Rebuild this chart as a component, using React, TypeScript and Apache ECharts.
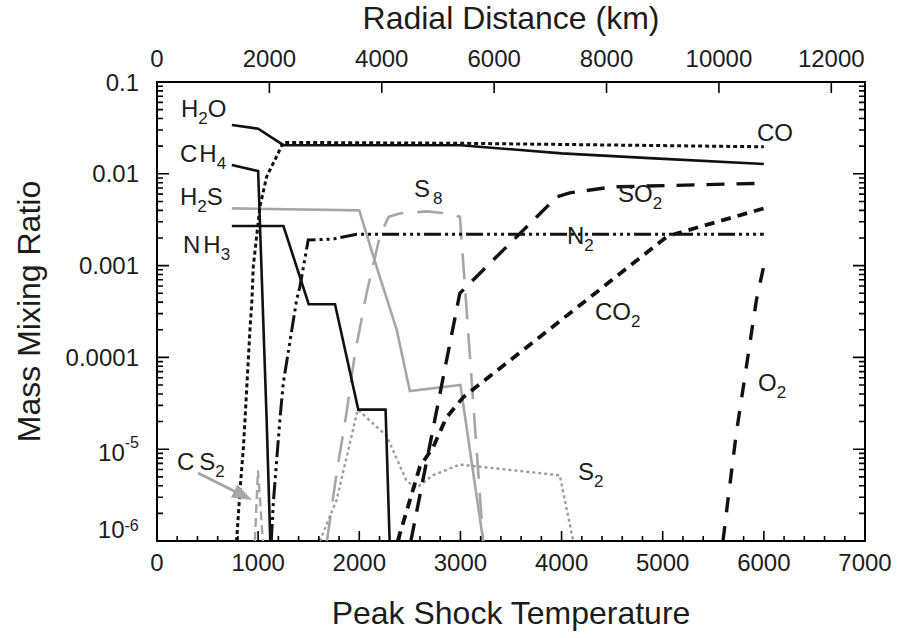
import React, { useEffect, useRef } from 'react';
import * as echarts from 'echarts';

const FONT = '"Liberation Sans", Arial, Helvetica, sans-serif';
const TEXT = '#1c1c1c';
const BLACK = '#111111';
const GRAY = '#a6a6a6';

// ---- axes ----
const temperatureMax = 7000;
const temperatureInterval = 1000;
const temperatureMinorStep = 200;
const radialMax = 12600;
const radialInterval = 2000;
const radialLastTick = 12000;
const yMin = 1e-6;
const yMax = 0.1;
const yTickLabels = ['10^-6', '10^-5', '0.0001', '0.001', '0.01', '0.1'];

// ---- series data: [peak shock temperature, mass mixing ratio] ----
const h2o = [[740, 0.034], [1000, 0.031], [1250, 0.0205], [3000, 0.0205], [4000, 0.0167], [4870, 0.0148], [6000, 0.0128]];
const co = [[787, 1e-6], [820, 3.5e-6], [853, 1e-5], [870, 2.1e-5], [919, 2e-4], [939, 4.3e-4], [952, 9.8e-4], [1018, 0.0044], [1084, 0.0093], [1183, 0.0155], [1248, 0.022], [3000, 0.0215], [6000, 0.0197]];
const ch4 = [[740, 0.0125], [1000, 0.0107], [1084, 2.1e-5], [1120, 1e-6]];
const h2s = [[740, 0.0042], [2000, 0.004], [2170, 9.8e-4], [2370, 2e-4], [2500, 4.3e-5], [3000, 5e-5], [3225, 1e-6]];
const nh3 = [[740, 0.0027], [1250, 0.0027], [1500, 3.8e-4], [1760, 3.8e-4], [1990, 2.7e-5], [2260, 2.7e-5], [2300, 1e-6]];
const s8 = [[1680, 1e-6], [1776, 5.5e-6], [1874, 2.5e-5], [1957, 1.1e-4], [2072, 5e-4], [2204, 0.0021], [2290, 0.0034], [2400, 0.0037], [2670, 0.0039], [2880, 0.0037], [2995, 0.0034], [3225, 1e-6]];
const s2 = [[1610, 1e-6], [1776, 2.8e-6], [1985, 2.7e-5], [2270, 1.4e-5], [2467, 4.5e-6], [2566, 3.8e-6], [2728, 5.2e-6], [2994, 6.8e-6], [3160, 6.5e-6], [3982, 5.2e-6], [4115, 1e-6]];
const cs2 = [[968, 1e-6], [998, 5.9e-6], [1047, 1e-6]];
const n2 = [[1130, 1e-6], [1150, 2.6e-6], [1215, 2.1e-5], [1248, 5.2e-5], [1380, 4.2e-4], [1413, 5.9e-4], [1495, 0.0019], [1742, 0.00195], [1975, 0.0022], [6000, 0.0022]];
const so2 = [[2510, 1e-6], [2994, 5e-4], [3953, 0.0056], [4080, 0.0062], [4500, 0.0072], [6000, 0.0079]];
const co2 = [[2380, 1e-6], [2600, 6.5e-6], [2730, 1.05e-5], [2860, 2.2e-5], [3030, 3.7e-5], [5050, 0.0021], [6000, 0.0042]];
const o2 = [[5596, 1e-6], [5645, 2.8e-6], [5728, 1.5e-5], [5827, 7.9e-5], [5926, 4.2e-4], [6000, 0.001]];

// ---- styles ----
const seriesDefs = [
  { name: 'H2S', data: h2s, color: GRAY, width: 2.6, dash: 'solid' as any },
  { name: 'S8', data: s8, color: GRAY, width: 2.6, dash: [26, 14] },
  { name: 'S2', data: s2, color: '#9c9c9c', width: 2.4, dash: [3, 3] },
  { name: 'CS2', data: cs2, color: GRAY, width: 2.4, dash: [9, 5] },
  { name: 'H2O', data: h2o, color: BLACK, width: 2.6, dash: 'solid' as any },
  { name: 'CO', data: co, color: BLACK, width: 3, dash: [4, 3] },
  { name: 'CH4', data: ch4, color: BLACK, width: 2.6, dash: 'solid' as any },
  { name: 'NH3', data: nh3, color: BLACK, width: 2.6, dash: 'solid' as any },
  { name: 'N2', data: n2, color: BLACK, width: 3, dash: [17, 4, 3, 4, 3, 4, 3, 4] },
  { name: 'SO2', data: so2, color: BLACK, width: 3.4, dash: [18, 12] },
  { name: 'CO2', data: co2, color: BLACK, width: 3.8, dash: [10, 7] },
  { name: 'O2', data: o2, color: BLACK, width: 3.4, dash: [15, 14] },
];

type Part = { t: string; sub?: boolean; dx?: number };
const speciesLabels: { parts: Part[]; x: number; y: number }[] = [
  { parts: [{ t: 'H' }, { t: '2', sub: true }, { t: 'O' }], x: 181, y: 108.5 },
  { parts: [{ t: 'C' }, { t: 'H', dx: 2 }, { t: '4', sub: true }], x: 180, y: 153.5 },
  { parts: [{ t: 'H' }, { t: '2', sub: true }, { t: 'S' }], x: 180, y: 196 },
  { parts: [{ t: 'N' }, { t: 'H', dx: 3 }, { t: '3', sub: true }], x: 183, y: 244 },
  { parts: [{ t: 'C' }, { t: 'S', dx: 5 }, { t: '2', sub: true }], x: 177, y: 461 },
  { parts: [{ t: 'S' }, { t: '8', sub: true, dx: 3 }], x: 414, y: 188.5 },
  { parts: [{ t: 'CO' }], x: 757, y: 132.5 },
  { parts: [{ t: 'SO' }, { t: '2', sub: true }], x: 618, y: 193 },
  { parts: [{ t: 'N' }, { t: '2', sub: true }], x: 567, y: 235 },
  { parts: [{ t: 'CO' }, { t: '2', sub: true }], x: 595, y: 311.5 },
  { parts: [{ t: 'O' }, { t: '2', sub: true }], x: 758, y: 382.5 },
  { parts: [{ t: 'S' }, { t: '2', sub: true }], x: 578, y: 471.5 },
];

const LABEL_SIZE = 24;
const SUB_SIZE = 17;
const SUB_OFFSET = 10;

function measure(text: string, size: number): number {
  const c = document.createElement('canvas').getContext('2d');
  if (!c) return text.length * size * 0.6;
  c.font = `${size}px ${FONT}`;
  return c.measureText(text).width;
}

function buildLabelGraphics() {
  const els: any[] = [];
  speciesLabels.forEach((lab) => {
    let cx = lab.x;
    lab.parts.forEach((p) => {
      cx += p.dx || 0;
      const size = p.sub ? SUB_SIZE : LABEL_SIZE;
      els.push({
        type: 'text',
        x: cx,
        y: lab.y + (p.sub ? SUB_OFFSET : 0),
        silent: true,
        z: 50,
        style: { text: p.t, fill: TEXT, font: `${size}px ${FONT}`, align: 'left', verticalAlign: 'middle' },
      });
      cx += measure(p.t, size);
    });
  });
  els.push({
    type: 'line',
    silent: true,
    z: 50,
    shape: { x1: 198, y1: 473, x2: 238, y2: 493 },
    style: { stroke: GRAY, lineWidth: 3 },
  });
  els.push({
    type: 'polygon',
    silent: true,
    z: 50,
    shape: { points: [[252, 500], [231, 497.5], [237.5, 484.5]] },
    style: { fill: GRAY },
  });
  return els;
}

function yLabel(v: number): string {
  const e = Math.round(Math.log10(v));
  const s = yTickLabels[e + 6];
  if (!s) return '';
  if (s.indexOf('^') >= 0) {
    const [b, p] = s.split('^');
    if (e === -6) return `{b6|${b}}{s6|${p}}{gap| }`;
    return `{b|${b}}{s|${p}}`;
  }
  return s;
}

const GRID = { left: 157, right: 33, top: 82, bottom: 97 };

// Tick marks drawn as a line series in data space (segments separated by nulls),
// tick lengths converted from pixels through the chart's own scales.
function buildTickSeries(chart: any) {
  const px = (v: number) => chart.convertToPixel({ xAxisIndex: 0 }, v);
  const py = (v: number) => chart.convertToPixel({ yAxisIndex: 0 }, v);
  const fx = (p: number) => chart.convertFromPixel({ xAxisIndex: 0 }, p);
  const fy = (p: number) => chart.convertFromPixel({ yAxisIndex: 0 }, p);
  const left = px(0);
  const right = px(temperatureMax);
  const top = py(yMax);
  const bottom = py(yMin);
  const pts: any[] = [];
  const seg = (a: number[], b: number[]) => {
    pts.push(a, b, null);
  };
  // temperature ticks (bottom)
  for (let t = 0; t <= temperatureMax; t += temperatureMinorStep) {
    const len = t % temperatureInterval === 0 ? 10 : 5;
    seg([t, yMin], [t, fy(bottom - len)]);
  }
  // radial ticks (top)
  for (let r = 0; r <= radialLastTick; r += radialInterval) {
    const t = (r * temperatureMax) / radialMax;
    seg([t, yMax], [t, fy(top + 11)]);
  }
  // log ticks (left, right)
  for (let k = -6; k <= -1; k++) {
    const dec = Math.pow(10, k);
    seg([0, dec], [fx(left + 12), dec]);
    seg([temperatureMax, dec], [fx(right - 12), dec]);
    if (k < -1) {
      for (let m = 2; m <= 9; m++) {
        const v = m * dec;
        seg([0, v], [fx(left + 6), v]);
        seg([temperatureMax, v], [fx(right - 6), v]);
      }
    }
  }
  return {
    id: 'ticks',
    type: 'line',
    xAxisIndex: 0,
    yAxisIndex: 0,
    data: pts,
    connectNulls: false,
    showSymbol: false,
    symbol: 'none',
    silent: true,
    clip: false,
    z: 20,
    lineStyle: { color: '#000', width: 1.6, type: 'solid', cap: 'butt' },
  };
}

export default function App() {
  const ref = useRef<HTMLDivElement>(null);
  useEffect(() => {
    if (!ref.current) return;
    const chart = echarts.init(ref.current, null, { renderer: 'svg' });
    const frame = { show: true, onZero: false, lineStyle: { color: '#000', width: 2 } };
    const option: any = {
      animation: false,
      backgroundColor: '#ffffff',
      textStyle: { fontFamily: FONT },
      grid: { ...GRID, outerBoundsMode: 'none' },
      xAxis: [
        {
          type: 'value',
          position: 'bottom',
          min: 0,
          max: temperatureMax,
          interval: temperatureInterval,
          name: 'Peak Shock Temperature',
          nameLocation: 'middle',
          nameGap: 56,
          nameTextStyle: { fontSize: 32, color: TEXT, fontFamily: FONT },
          axisLine: frame,
          axisTick: { show: false },
          axisLabel: { fontSize: 24, color: TEXT, margin: 9, fontFamily: FONT, formatter: (v: number) => String(v) },
          splitLine: { show: false },
        },
        {
          type: 'value',
          position: 'top',
          min: 0,
          max: radialMax,
          interval: radialInterval,
          name: 'Radial Distance (km)',
          nameLocation: 'middle',
          nameGap: 48,
          nameTextStyle: { fontSize: 32, color: TEXT, fontFamily: FONT },
          axisLine: frame,
          axisTick: { show: false },
          axisLabel: { fontSize: 24, color: TEXT, margin: 12, showMaxLabel: false, fontFamily: FONT, formatter: (v: number) => String(v) },
          splitLine: { show: false },
        },
      ],
      yAxis: [
        {
          type: 'log',
          logBase: 10,
          min: yMin,
          max: yMax,
          position: 'left',
          name: 'Mass Mixing Ratio',
          nameLocation: 'middle',
          nameGap: 112,
          nameTextStyle: { fontSize: 32, color: TEXT, fontFamily: FONT },
          axisLine: frame,
          axisTick: { show: false },
          axisLabel: {
            fontSize: 24,
            color: TEXT,
            margin: 18,
            fontFamily: FONT,
            formatter: yLabel,
            rich: {
              b: { fontSize: 24, lineHeight: 30, verticalAlign: 'bottom', color: TEXT, fontFamily: FONT },
              s: { fontSize: 16, lineHeight: 16, verticalAlign: 'top', color: TEXT, fontFamily: FONT },
              b6: { fontSize: 24, lineHeight: 30, verticalAlign: 'top', color: TEXT, fontFamily: FONT },
              s6: { fontSize: 16, lineHeight: 16, verticalAlign: 'top', color: TEXT, fontFamily: FONT },
              gap: { fontSize: 1, lineHeight: 48, verticalAlign: 'middle' },
            },
          },
          splitLine: { show: false },
        },
        {
          type: 'log',
          logBase: 10,
          min: yMin,
          max: yMax,
          position: 'right',
          axisLine: frame,
          axisTick: { show: false },
          axisLabel: { show: false },
          splitLine: { show: false },
        },
      ],
      series: seriesDefs.map((s) => ({
        name: s.name,
        type: 'line',
        xAxisIndex: 0,
        yAxisIndex: 0,
        data: s.data,
        showSymbol: false,
        symbol: 'none',
        silent: true,
        lineStyle: { color: s.color, width: s.width, type: s.dash, cap: 'butt', join: 'miter' },
        z: s.color === BLACK ? 4 : 3,
      })),
      graphic: buildLabelGraphics(),
    };
    chart.setOption(option);
    try {
      const tickSeries = buildTickSeries(chart);
      chart.setOption({ series: [...option.series, tickSeries] });
    } catch (e) {
      // ticks are decoration only
    }
    return () => chart.dispose();
  }, []);
  return (
    <div
      ref={ref}
      style={{ position: 'fixed', left: 0, top: 0, width: 898, height: 638, background: '#fff' }}
    />
  );
}
